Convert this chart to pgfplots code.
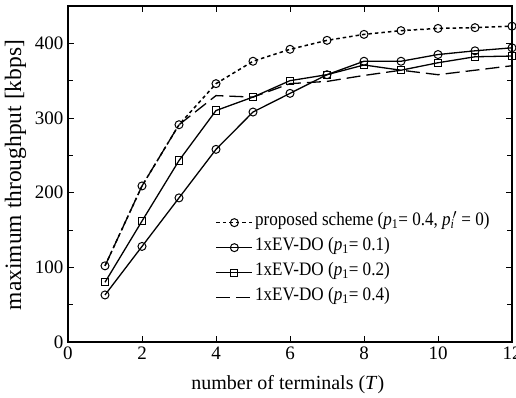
\documentclass[border=0pt]{standalone}
\usepackage{fontspec}
\setmainfont{Liberation Serif}
\newfontfamily\legfont[FakeStretch=0.9]{Liberation Serif}
\usepackage{pgfplots}
\pgfplotsset{compat=1.18}
\begin{document}
\begin{tikzpicture}
\begin{axis}[
  name=ax,
  at={(0,0)}, anchor=south west,
  scale only axis,
  width=444pt, height=336pt,
  xmin=0, xmax=12, ymin=0, ymax=450,
  xtick={0,2,4,6,8,10,12},
  ytick={0,100,200,300,400},
  minor ytick={50,150,250,350},
  tick align=inside,
  major tick length=6pt,
  minor tick length=5pt,
  every tick/.style={black, line width=1pt},
  axis line style={line width=1.2pt},
  tick label style={font=\fontsize{19pt}{22pt}\selectfont},
  xticklabel style={yshift=-1pt},
  yticklabel style={xshift=-1pt},
  /pgf/number format/assume math mode=true,
  xlabel={number of terminals (\textit{T})},
  ylabel={maximum throughput [kbps]},
  xlabel style={font=\fontsize{20pt}{24pt}\selectfont, at={(axis description cs:0.495,-0.128)}, anchor=center},
  ylabel style={font=\fontsize{23.5pt}{27pt}\selectfont, at={(axis description cs:-0.118,0.497)}, anchor=center, rotate=0},
  legend style={draw=none, fill=none, at={(0.332,0.393)}, anchor=north west,
    font=\legfont\fontsize{19pt}{22pt}\selectfont, row sep=0pt, inner sep=0pt,
    nodes={inner sep=2pt, text height=13.5pt, text depth=7.5pt},
    /tikz/every even column/.append style={column sep=7pt}},
  legend cell align=left,
  legend image code/.code={
    \draw[mark repeat=2,mark phase=2,#1] plot coordinates {(0pt,0pt) (18pt,0pt) (36pt,0pt)};},
  mark options={solid, fill=white, line width=1pt},
]
\addplot[black, line width=1.5pt, dash pattern=on 3.5pt off 3pt, mark=o, mark size=4pt] coordinates {
(1,102) (2,209) (3,291) (4,346) (5,376) (6,392) (7,404) (8,412) (9,417) (10,420) (11,421) (12,423)};
\addlegendentry{proposed scheme (\textit{p}\textsubscript{1}= 0.4, \textit{p}\rlap{\textsubscript{\textit{i}}}\textsuperscript{\kern0.15em$\prime$} = 0)}
\addplot[black, line width=1.3pt, mark=o, mark size=4pt] coordinates {
(1,63) (2,128) (3,193) (4,258) (5,308) (6,333) (7,358) (8,376) (9,376) (10,385) (11,390) (12,394)};
\addlegendentry{1xEV-DO (\textit{p}\textsubscript{1}= 0.1)}
\addplot[black, line width=1.3pt, mark=square, mark size=3.6pt] coordinates {
(1,80) (2,162) (3,243) (4,310) (5,328) (6,350) (7,358) (8,371) (9,364) (10,374) (11,382) (12,383)};
\addlegendentry{1xEV-DO (\textit{p}\textsubscript{1}= 0.2)}
\addplot[black, line width=1.3pt, dash pattern=on 14pt off 6pt] coordinates {
(1,102) (2,209) (3,291) (4,330) (5,328) (6,346) (7,349) (8,357) (9,364) (10,358) (11,364) (12,370)};
\addlegendentry{1xEV-DO (\textit{p}\textsubscript{1}= 0.4)}
\end{axis}
\pgfresetboundingbox
\path[use as bounding box] (-68pt,-55pt) rectangle (448pt,342pt);
\end{tikzpicture}
\end{document}
